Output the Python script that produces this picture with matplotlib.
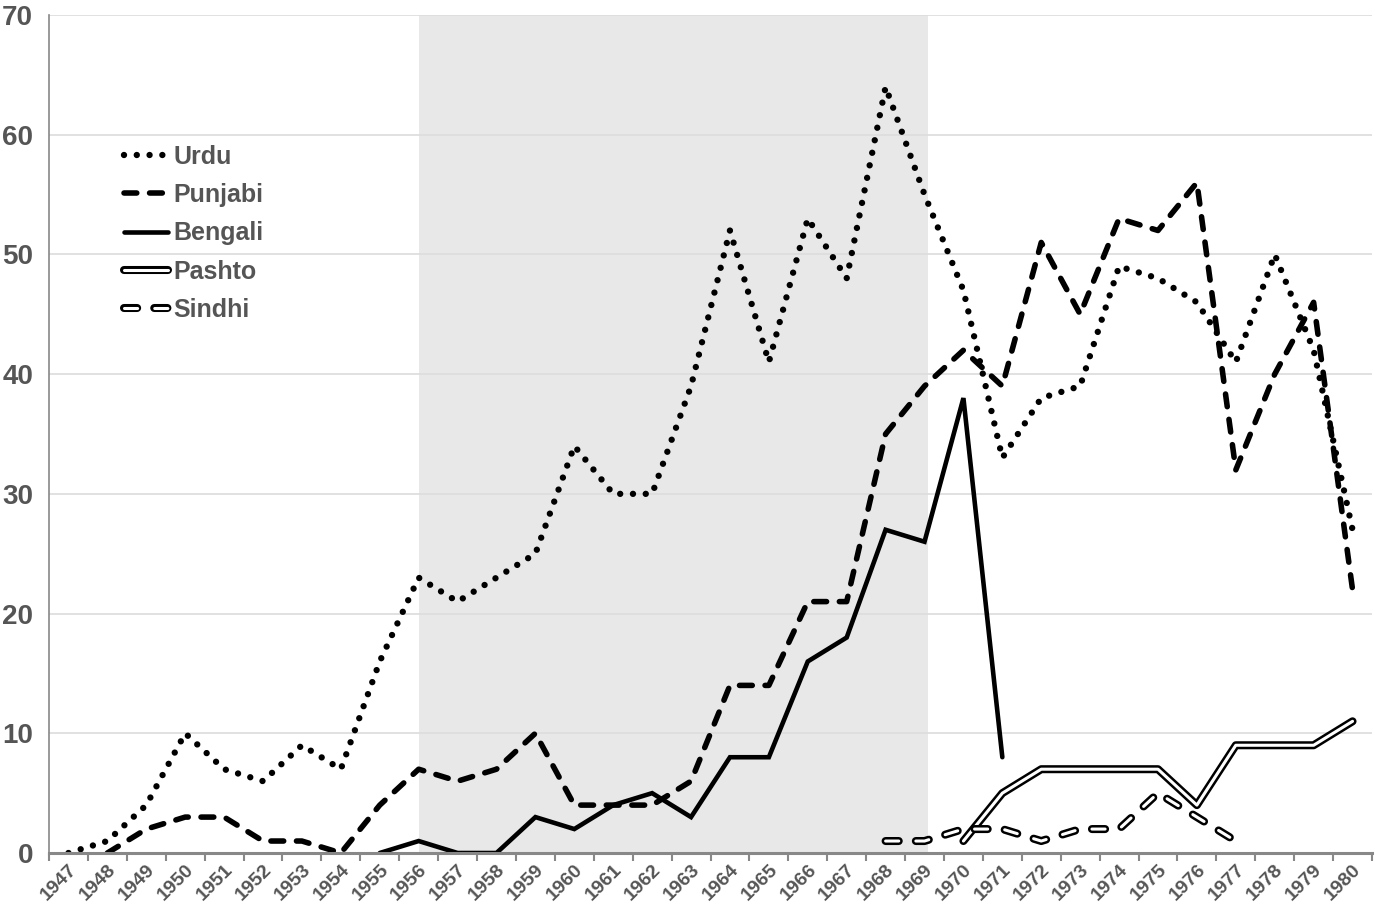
import numpy as np
import matplotlib
matplotlib.use("Agg")
import matplotlib.pyplot as plt
import matplotlib.patheffects as pe

nan = np.nan
years = list(range(1947, 1981))
urdu = [0, 1, 4, 10, 7, 6, 9, 7, 16, 23, 21, 23, 25, 34, 30, 30, 39, 52, 41, 53,
        48, 64, 55, 47, 33, 38, 39, 49, 48, 46, 41, 50, 42, 27]
punjabi = [nan, 0, 2, 3, 3, 1, 1, 0, 4, 7, 6, 7, 10, 4, 4, 4, 6, 14, 14, 21,
           21, 35, 39, 42, 39, 51, 45, 53, 52, 56, 32, 40, 46, 22]
bengali = [nan, nan, nan, nan, nan, nan, nan, nan, 0, 1, 0, 0, 3, 2, 4, 5, 3, 8, 8, 16,
           18, 27, 26, 38, 8, nan, nan, nan, nan, nan, nan, nan, nan, nan]
pashto = [nan] * 23 + [1, 5, 7, 7, 7, 7, 4, 9, 9, 9, 11]
sindhi = [nan] * 21 + [1, 1, 2, 2, 1, 2, 2, 5, 3, 1, nan, nan, nan]
shade_years = (1956, 1969)
yticks = [0, 10, 20, 30, 40, 50, 60, 70]

GRAY = "#555555"
plt.rcParams['font.family'] = ['Liberation Sans', 'DejaVu Sans']

fig = plt.figure(figsize=(13.75, 9.11), dpi=100)
ax = fig.add_axes([49/1375, 1 - 853/911, (1372-49)/1375, (853-15)/911])

x = np.arange(len(years))
ax.axvspan(years.index(shade_years[0]), years.index(shade_years[1]) + 0.1,
           color="#e8e8e8", zorder=0.1, lw=0)

ax.plot(x, urdu, color="black", lw=4.6, linestyle=(0, (0.001, 2.0)),
        dash_capstyle="round", label="Urdu", zorder=3)
ax.plot(x, punjabi, color="black", lw=4.0, linestyle=(0, (2.3, 2.3)),
        dash_capstyle="round", label="Punjabi", zorder=3)
ax.plot(x, bengali, color="black", lw=3.3, solid_capstyle="round",
        solid_joinstyle="miter", label="Bengali", zorder=3)
ax.plot(x, pashto, color="white", lw=2.2, solid_capstyle="round", label="Pashto",
        zorder=3, path_effects=[pe.Stroke(linewidth=5.8, foreground="black"), pe.Normal()])
ax.plot(x, sindhi, color="white", lw=2.2, linestyle=(0, (4.3, 5.6)),
        dash_capstyle="round", label="Sindhi", zorder=3,
        path_effects=[pe.Stroke(linewidth=5.8, foreground="black"), pe.Normal()])

ax.set_xlim(-0.5, len(years) - 0.5)
ax.set_ylim(0, 70)
ax.set_yticks(yticks)
ax.set_yticklabels([str(v) for v in yticks], fontsize=20, fontweight="bold", color=GRAY)
ax.tick_params(axis="y", length=0, pad=11.5)

ax.set_xticks(x)
ax.set_xticklabels([str(y) for y in years], rotation=45, ha="right",
                   rotation_mode="anchor", fontsize=14, fontweight="bold", color=GRAY)
ax.tick_params(axis="x", which="major", length=0, pad=6)
ax.set_xticks(np.arange(-0.5, len(years)), minor=True)
ax.tick_params(axis="x", which="minor", length=6, width=1.5, color="#888888", direction="out")

ax.set_axisbelow(True)
ax.yaxis.grid(True, color="#dcdcdc", lw=1.2, zorder=0.5)
for s in ["top", "right"]:
    ax.spines[s].set_visible(False)
ax.spines["left"].set_color("#888888")
ax.spines["left"].set_linewidth(1.2)
ax.spines["bottom"].set_color("#888888")
ax.spines["bottom"].set_linewidth(2.2)
ax.spines["bottom"].set_zorder(5)

leg = ax.legend(loc="upper left", bbox_to_anchor=(0.057, 0.845), frameon=False,
                prop={"size": 18, "weight": "bold"}, handlelength=1.75,
                handletextpad=0.22, labelspacing=0.57, borderpad=0, borderaxespad=0)
for t in leg.get_texts():
    t.set_color(GRAY)

fig.savefig("out.png", dpi=100)
